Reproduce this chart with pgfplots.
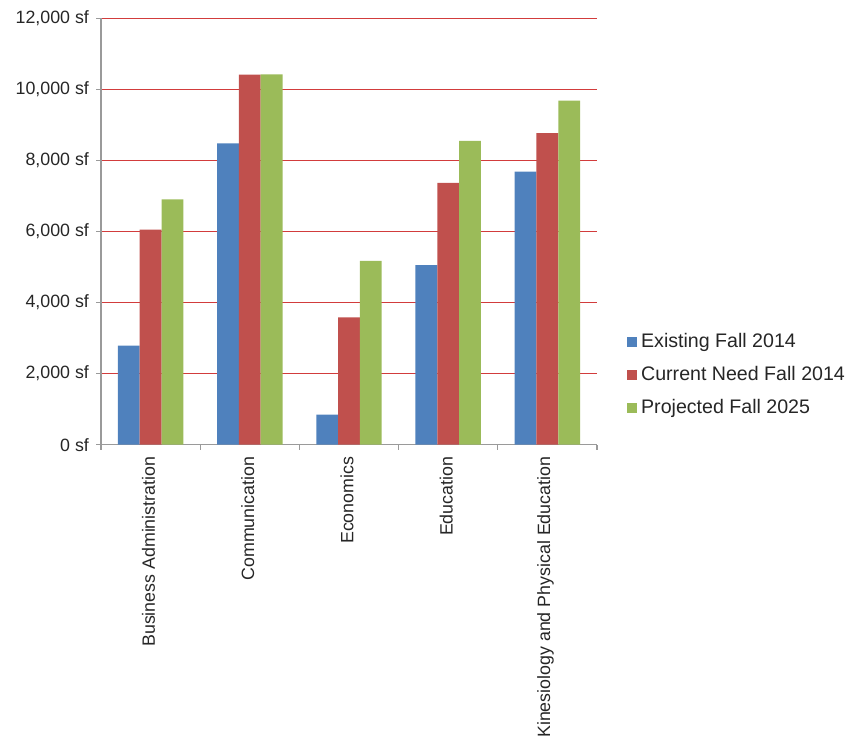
\documentclass[border=0pt]{standalone}
\usepackage{fontspec}
\setmainfont{Liberation Sans}
\usepackage{pgfplots}
\pgfplotsset{compat=1.18}
\definecolor{cblue}{HTML}{4F81BD}
\definecolor{cred}{HTML}{C0504D}
\definecolor{cgreen}{HTML}{9BBB59}
\definecolor{gridred}{HTML}{D23C3C}
\definecolor{axgray}{HTML}{9A9A9A}
\begin{document}
\begin{tikzpicture}
\begin{axis}[
  scale only axis,
  width=248pt, height=213.2pt,
  ybar=0pt,
  bar width=0.22,
  xmin=-0.5, xmax=4.5,
  ymin=0, ymax=12000,
  ytick={0,2000,...,12000},
  scaled y ticks=false,
  xtick={0,1,2,3,4},
  xticklabels={Business Administration,Communication,Economics,Education,Kinesiology and Physical Education},
  minor xtick={-0.5,0.5,1.5,2.5,3.5,4.5},
  major x tick style={draw=none},
  tick align=outside,
  major tick length=2.5pt,
  minor tick length=2.5pt,
  axis x line*=bottom,
  axis y line*=left,
  axis line style={axgray, line width=0.6pt},
  every tick/.style={axgray, line width=0.6pt},
  ymajorgrids,
  major grid style={gridred, line width=0.6pt},
  /pgf/number format/assume math mode=true,
  /pgf/number format/.cd, 1000 sep={,}, fixed, precision=0,
  /pgfplots/.cd,
  yticklabel={\pgfmathprintnumber{\tick} sf},
  ticklabel style={font=\fontsize{8.9}{10}\selectfont, text=black!85},
  xticklabel style={rotate=90, anchor=east, yshift=1pt},
  clip=false,
  legend style={draw=none, at={(1.06,0.163)}, anchor=west,
    font=\fontsize{9.8}{11}\selectfont, row sep=3.8pt, inner sep=0pt,
    cells={anchor=west, text=black!85}},
  legend image code/.code={\fill[#1] (0pt,-2.5pt) rectangle (5pt,2.5pt);},
]
\addplot[fill=cblue, draw=none] coordinates {(0,2790) (1,8480) (2,845) (3,5055) (4,7685)};
\addplot[fill=cred, draw=none] coordinates {(0,6050) (1,10415) (2,3585) (3,7365) (4,8765)};
\addplot[fill=cgreen, draw=none] coordinates {(0,6905) (1,10420) (2,5170) (3,8550) (4,9680)};
\legend{Existing Fall 2014,Current Need Fall 2014,Projected Fall 2025}
\end{axis}
\path ([shift={(-50.5pt,-148.65pt)}]current axis.south west) rectangle ([shift={(126pt,9.15pt)}]current axis.north east);
\end{tikzpicture}
\end{document}
